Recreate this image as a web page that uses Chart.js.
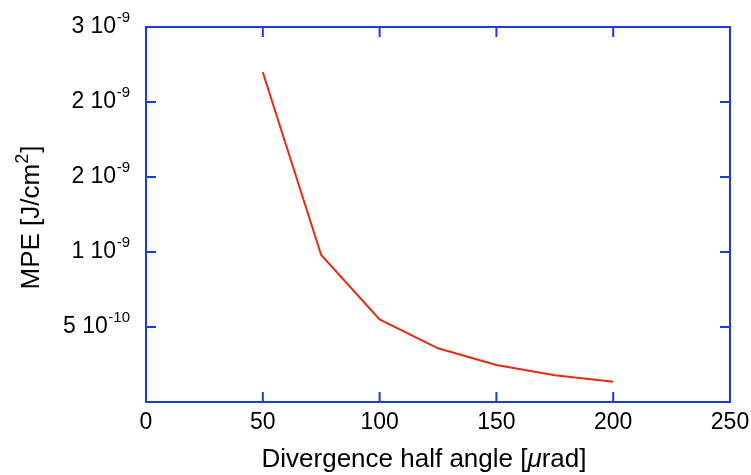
<!DOCTYPE html>
<html>
<head>
<meta charset="utf-8">
<script src="https://cdn.jsdelivr.net/npm/chart.js@4/dist/chart.umd.min.js"></script>
<style>
  html, body { margin: 0; padding: 0; background: #fff; }
  #wrap { width: 751px; height: 475px; }
</style>
</head>
<body>
<div id="wrap"><canvas id="mpeChart" width="751" height="475"></canvas></div>
<script>
// divergence half angle [µrad] and MPE [J/cm2]
const angles = [50, 75, 100, 125, 150, 175, 200];
const mpe = [2.198e-9, 0.980e-9, 0.551e-9, 0.358e-9, 0.247e-9, 0.178e-9, 0.135e-9];

const xTickValues = [0, 50, 100, 150, 200, 250];
const xTickLabels = ["0", "50", "100", "150", "200", "250"];
const yTickValues = [0, 5e-10, 1e-9, 1.5e-9, 2e-9, 2.5e-9];
const yTickMantissa = ["", "5 10", "1 10", "2 10", "2 10", "3 10"];
const yTickExponent = ["", "-10", "-9", "-9", "-9", "-9"];

const BLUE = "#1b3ae6";
const FONT = '"Liberation Sans", Arial, Helvetica, sans-serif';

// frame with inward ticks on all four sides, plus the labels with superscripts
const framePlugin = {
    id: "frame",
    afterDraw(chart) {
        const { ctx, chartArea: a, scales: { x, y } } = chart;
        ctx.save();
        ctx.strokeStyle = BLUE;
        ctx.lineWidth = 2;
        ctx.strokeRect(a.left, a.top, a.right - a.left, a.bottom - a.top);
        ctx.beginPath();
        x.ticks.forEach(t => {
            const px = x.getPixelForValue(t.value);
            ctx.moveTo(px, a.bottom); ctx.lineTo(px, a.bottom - 10);
            ctx.moveTo(px, a.top); ctx.lineTo(px, a.top + 10);
        });
        y.ticks.forEach(t => {
            const py = y.getPixelForValue(t.value);
            ctx.moveTo(a.left, py); ctx.lineTo(a.left + 10, py);
            ctx.moveTo(a.right, py); ctx.lineTo(a.right - 10, py);
        });
        ctx.stroke();

        ctx.fillStyle = "#000";
        ctx.textBaseline = "alphabetic";

        // x tick labels
        ctx.font = "23px " + FONT;
        ctx.textAlign = "center";
        x.ticks.forEach((t, i) => {
            ctx.fillText(xTickLabels[i], x.getPixelForValue(t.value), a.bottom + 27);
        });

        // y tick labels like "3 10^-9"
        const right = a.left - 16;
        y.ticks.forEach((t, i) => {
            if (!yTickMantissa[i]) return;
            const py = y.getPixelForValue(t.value);
            ctx.font = "15px " + FONT;
            const sw = ctx.measureText(yTickExponent[i]).width;
            ctx.textAlign = "left";
            ctx.fillText(yTickExponent[i], right - sw, py - 5);
            ctx.font = "23px " + FONT;
            ctx.textAlign = "right";
            ctx.fillText(yTickMantissa[i], right - sw - 0.5, py + 6);
        });

        // x axis title with italic mu
        const parts = [
            { t: "Divergence half angle [", f: "26px " + FONT },
            { t: "\u03bc", f: "italic 26px " + FONT },
            { t: "rad]", f: "26px " + FONT }
        ];
        let total = 0;
        parts.forEach(p => { ctx.font = p.f; p.w = ctx.measureText(p.t).width; total += p.w; });
        let cx = 424 - total / 2;
        ctx.textAlign = "left";
        parts.forEach(p => { ctx.font = p.f; ctx.fillText(p.t, cx, 467); cx += p.w; });

        // y axis title, rotated, with superscript 2
        ctx.translate(39, 218);
        ctx.rotate(-Math.PI / 2);
        ctx.font = "26px " + FONT;
        const w1 = ctx.measureText("MPE [J/cm").width;
        const w3 = ctx.measureText("]").width;
        ctx.font = "18px " + FONT;
        const w2 = ctx.measureText("2").width;
        let sx = -(w1 + w2 + w3) / 2;
        ctx.font = "26px " + FONT;
        ctx.fillText("MPE [J/cm", sx, 0);
        ctx.font = "18px " + FONT;
        ctx.fillText("2", sx + w1, -11);
        ctx.font = "26px " + FONT;
        ctx.fillText("]", sx + w1 + w2 + 1, 0);
        ctx.restore();
    }
};

new Chart(document.getElementById("mpeChart").getContext("2d"), {
    type: "line",
    data: {
        datasets: [{
            label: "MPE",
            data: angles.map((a, i) => ({ x: a, y: mpe[i] })),
            borderColor: "#ea2a10",
            borderWidth: 2,
            pointRadius: 0,
            tension: 0,
            fill: false
        }]
    },
    options: {
        responsive: false,
        animation: false,
        layout: { padding: { top: 27, right: 21, left: 0, bottom: 0 } },
        plugins: { legend: { display: false }, tooltip: { enabled: false } },
        scales: {
            x: {
                type: "linear",
                min: 0,
                max: 250,
                afterBuildTicks: s => { s.ticks = xTickValues.map(v => ({ value: v })); },
                afterFit: s => { s.height = 73; },
                ticks: { display: false },
                grid: { display: false },
                border: { display: false }
            },
            y: {
                type: "linear",
                min: 0,
                max: 2.5e-9,
                afterBuildTicks: s => { s.ticks = yTickValues.map(v => ({ value: v })); },
                afterFit: s => { s.width = 146; },
                ticks: { display: false },
                grid: { display: false },
                border: { display: false }
            }
        }
    },
    plugins: [framePlugin]
});
</script>
</body>
</html>
